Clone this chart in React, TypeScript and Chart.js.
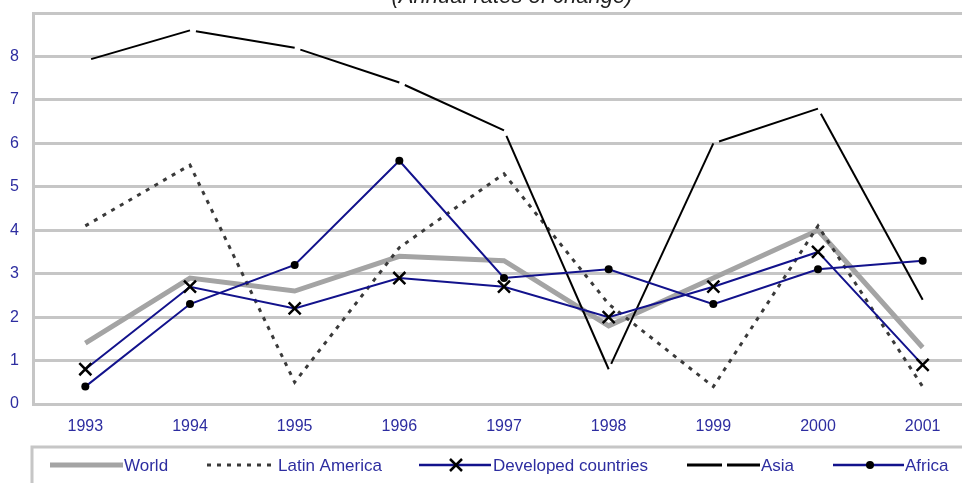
import React, { useEffect, useRef } from "react";
import { Chart, registerables } from "chart.js";

Chart.register(...registerables);

// ---- data ----
const YEARS = ["1993", "1994", "1995", "1996", "1997", "1998", "1999", "2000", "2001"];
const WORLD = [1.4, 2.9, 2.6, 3.4, 3.3, 1.8, 2.9, 4.0, 1.3];
const LATIN_AMERICA = [4.1, 5.5, 0.5, 3.6, 5.3, 2.3, 0.4, 4.1, 0.4];
const DEVELOPED = [0.8, 2.7, 2.2, 2.9, 2.7, 2.0, 2.7, 3.5, 0.9];
const ASIA = [7.9, 8.6, 8.2, 7.4, 6.3, 0.8, 6.0, 6.8, 2.4];
const AFRICA = [0.4, 2.3, 3.2, 5.6, 2.9, 3.1, 2.3, 3.1, 3.3];
const Y_MIN = 0;
const Y_MAX = 9;
const Y_LABELS = ["0", "1", "2", "3", "4", "5", "6", "7", "8", ""];
const TITLE = "(Annual rates of change)";
const SERIES_NAMES = ["World", "Latin America", "Developed countries", "Asia", "Africa"];

// ---- layout / style ----
const OFFSET = 20; // canvas shifted up so the title is clipped as in the reference
const CANVAS_W = 1000;
const CANVAS_H = 483 + OFFSET;
const FONT = '"Liberation Sans", Arial, Helvetica, sans-serif';
const LABEL_COLOR = "#2d2da0";
const GRID = "#c6c6c6";
const NAVY = "#12128c";
const GRAY = "#a4a4a4";
const ASIA_GAP = 6;

const decorPlugin = {
  id: "decor",
  afterDraw(chart: any) {
    const ctx = chart.ctx as CanvasRenderingContext2D;
    const ds = chart.data.datasets;
    ctx.save();
    // title (clipped at the top)
    ctx.font = `italic 22px ${FONT}`;
    ctx.fillStyle = "#222";
    ctx.textAlign = "center";
    ctx.textBaseline = "alphabetic";
    ctx.fillText(TITLE, 512, OFFSET + 3);

    // legend box
    ctx.strokeStyle = GRID;
    ctx.lineWidth = 3;
    ctx.strokeRect(32, OFFSET + 447, 1200, 200);

    const cy = OFFSET + 465;
    const line = (x0: number, x1: number, color: string, w: number, dash: number[] = []) => {
      ctx.beginPath();
      ctx.setLineDash(dash);
      ctx.strokeStyle = color;
      ctx.lineWidth = w;
      ctx.lineCap = "butt";
      ctx.moveTo(x0, cy);
      ctx.lineTo(x1, cy);
      ctx.stroke();
      ctx.setLineDash([]);
    };
    const text = (s: string, x: number) => {
      ctx.font = `17px ${FONT}`;
      ctx.fillStyle = LABEL_COLOR;
      ctx.textAlign = "left";
      ctx.textBaseline = "middle";
      ctx.fillText(s, x, cy + 1);
    };
    // World
    line(50, 123, ds[0].borderColor, 5);
    text(SERIES_NAMES[0], 124);
    // Latin America
    line(207, 277, ds[1].borderColor, 3, [4, 6]);
    text(SERIES_NAMES[1], 278);
    // Developed
    line(419, 491, ds[2].borderColor, 2.5);
    ctx.beginPath();
    ctx.strokeStyle = "#000";
    ctx.lineWidth = 2.5;
    ctx.moveTo(450, cy - 6);
    ctx.lineTo(462, cy + 6);
    ctx.moveTo(462, cy - 6);
    ctx.lineTo(450, cy + 6);
    ctx.stroke();
    text(SERIES_NAMES[2], 493);
    // Asia
    line(687, 722, ds[3].borderColor, 3);
    line(727, 760, ds[3].borderColor, 3);
    text(SERIES_NAMES[3], 761);
    // Africa
    line(833, 904, ds[4].borderColor, 2.5);
    ctx.beginPath();
    ctx.fillStyle = "#000";
    ctx.arc(870, cy, 4, 0, Math.PI * 2);
    ctx.fill();
    text(SERIES_NAMES[4], 905);
    ctx.restore();
  },
};

function segLen(c: any) {
  return Math.hypot(c.p1.x - c.p0.x, c.p1.y - c.p0.y);
}

export default function App() {
  const ref = useRef<HTMLCanvasElement | null>(null);

  useEffect(() => {
    if (!ref.current) return;
    const chart = new Chart(ref.current, {
      type: "line",
      data: {
        labels: YEARS,
        datasets: [
          {
            label: SERIES_NAMES[0],
            data: WORLD,
            borderColor: GRAY,
            borderWidth: 5,
            pointRadius: 0,
            tension: 0,
            order: 5,
          },
          {
            label: SERIES_NAMES[1],
            data: LATIN_AMERICA,
            borderColor: "#3a3a3a",
            borderWidth: 3,
            borderDash: [4, 6],
            pointRadius: 0,
            tension: 0,
            order: 4,
          },
          {
            label: SERIES_NAMES[2],
            data: DEVELOPED,
            borderColor: NAVY,
            borderWidth: 2,
            pointStyle: "crossRot",
            pointRadius: 8.5,
            pointBorderColor: "#000",
            pointBorderWidth: 2.5,
            pointBackgroundColor: "#000",
            tension: 0,
            order: 1,
          },
          {
            label: SERIES_NAMES[3],
            data: ASIA,
            borderColor: "#000",
            borderWidth: 2,
            pointRadius: 0,
            tension: 0,
            order: 3,
            segment: {
              borderDash: (c: any) => [Math.max(segLen(c) - ASIA_GAP, 1), ASIA_GAP],
              borderDashOffset: (c: any) => Math.max(segLen(c) - ASIA_GAP, 1),
            },
          } as any,
          {
            label: SERIES_NAMES[4],
            data: AFRICA,
            borderColor: NAVY,
            borderWidth: 2,
            pointStyle: "circle",
            pointRadius: 4,
            pointBorderWidth: 0,
            pointBackgroundColor: "#000",
            tension: 0,
            order: 2,
          },
        ],
      },
      options: {
        responsive: false,
        devicePixelRatio: 1,
        animation: false,
        layout: { padding: { top: OFFSET + 13, right: 25, left: 0, bottom: 0 } },
        plugins: {
          legend: { display: false },
          title: { display: false },
          tooltip: { enabled: false },
        },
        scales: {
          x: {
            type: "category",
            offset: true,
            grid: { display: false, drawTicks: false },
            border: { display: false },
            ticks: {
              color: LABEL_COLOR,
              font: { family: FONT, size: 16 },
              padding: 13,
              maxRotation: 0,
              autoSkip: false,
            },
            afterFit: (s: any) => {
              s.height = 79;
            },
          },
          y: {
            type: "linear",
            min: Y_MIN,
            max: Y_MAX,
            grid: { color: GRID, lineWidth: 3, drawTicks: false },
            border: { display: true, color: GRID, width: 3 },
            ticks: {
              stepSize: 1,
              color: LABEL_COLOR,
              font: { family: FONT, size: 16 },
              padding: 14,
              callback: (v: any) => Y_LABELS[Number(v)] ?? "",
            },
            afterFit: (s: any) => {
              s.width = 33;
            },
          },
        },
      },
      plugins: [decorPlugin],
    });
    return () => chart.destroy();
  }, []);

  return (
    <div
      style={{
        position: "fixed",
        left: 0,
        top: 0,
        width: "100vw",
        height: "100vh",
        overflow: "hidden",
        background: "#fff",
      }}
    >
      <canvas
        ref={ref}
        width={CANVAS_W}
        height={CANVAS_H}
        style={{ position: "absolute", left: 0, top: -OFFSET, width: CANVAS_W, height: CANVAS_H }}
      />
    </div>
  );
}
